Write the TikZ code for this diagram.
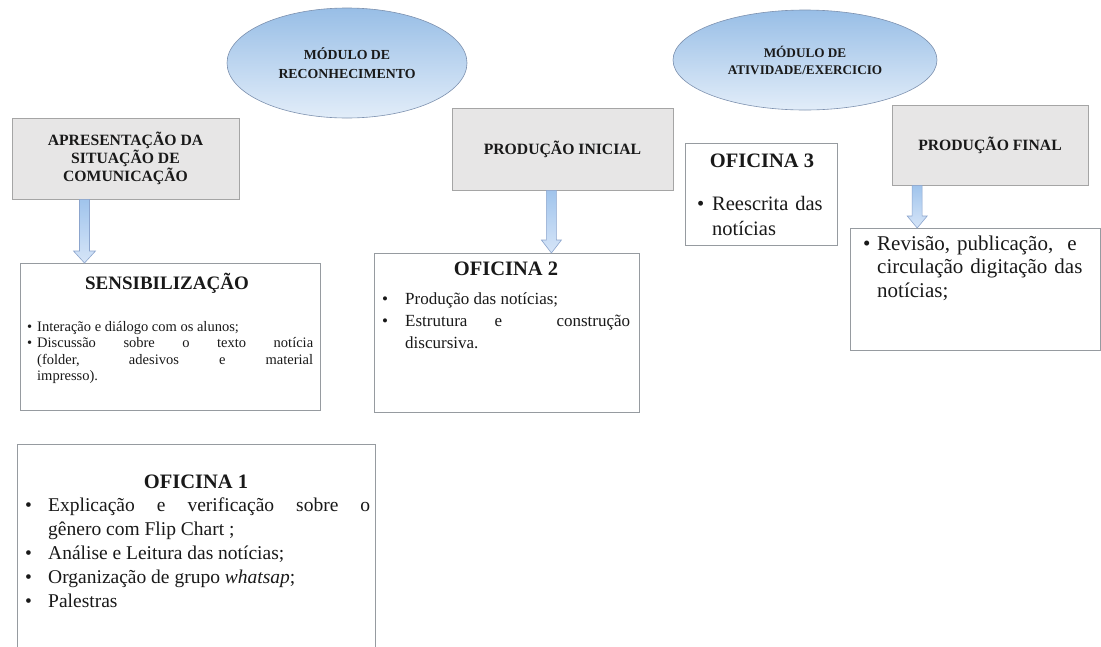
\documentclass[tikz,border=0pt]{standalone}
\usepackage{fontspec}
\setmainfont{Liberation Serif}
\usetikzlibrary{shapes.geometric,calc}
\definecolor{ellTop}{RGB}{152,190,230}
\definecolor{ellBot}{RGB}{226,237,249}
\definecolor{ellEdge}{RGB}{125,145,175}
\definecolor{grayFill}{RGB}{231,230,230}
\definecolor{grayEdge}{RGB}{165,165,165}
\definecolor{boxEdge}{RGB}{150,155,160}
\definecolor{arrTop}{RGB}{160,196,236}
\definecolor{arrBot}{RGB}{214,229,248}
\definecolor{arrEdge}{RGB}{140,165,205}
\definecolor{txt}{RGB}{25,25,25}
\pgfdeclarelayer{bg}\pgfsetlayers{bg,main}
\tolerance=9999
\hyphenpenalty=10000
\newcommand\bitem[2]{\noindent\hangindent=#1\hangafter=1\makebox[#1][l]{\textbullet}\ignorespaces#2\par}
\newcommand\blockarrow[5]{%
  \path[blockarr] ($(#1)+(-#3,0)$) -- ($(#1)+(#3,0)$) -- ($(#1 |- #2)+(#3,-#5)$) -- ($(#1 |- #2)+(#4,-#5)$) -- (#1 |- #2) -- ($(#1 |- #2)+(-#4,-#5)$) -- ($(#1 |- #2)+(-#3,-#5)$) -- cycle;}
\begin{document}
\begin{tikzpicture}[x=1pt,y=-1pt,
  ellip/.style={ellipse, draw=ellEdge, line width=0.6pt, top color=ellTop, bottom color=ellBot, inner sep=0pt, align=center, text=txt},
  graybox/.style={rectangle, draw=grayEdge, fill=grayFill, line width=0.8pt, align=center, inner sep=0pt, text=txt, font=\fontsize{15.7}{18}\bfseries},
  whitebox/.style={rectangle, draw=boxEdge, fill=white, line width=0.7pt, anchor=north west, inner sep=0pt},
  boxtitle/.style={anchor=base, inner sep=0pt, text=txt, font=\fontsize{20.5}{24}\bfseries},
  boxbody/.style={anchor=base west, inner sep=0pt, text=txt},
  blockarr/.style={draw=arrEdge, line width=0.6pt, top color=arrTop, bottom color=arrBot}]
\useasboundingbox (0,0) rectangle (1101,646);
\clip (0,0) rectangle (1101,646);
\fill[white] (0,0) rectangle (1101,646);

% ellipses
\node[ellip, minimum width=240pt, minimum height=110pt, font=\fontsize{13.8}{19}\bfseries] (ell1) at (347,63) {MÓDULO DE\\RECONHECIMENTO};
\node[ellip, minimum width=264pt, minimum height=100pt, font=\fontsize{13.2}{17}\bfseries] (ell2) at (805,60) {MÓDULO DE\\ATIVIDADE/EXERCICIO};

% gray boxes
\node[graybox, minimum width=227pt, minimum height=81pt] (apr) at (125.5,158.5) {APRESENTAÇÃO DA\\SITUAÇÃO DE\\COMUNICAÇÃO};
\node[graybox, minimum width=221pt, minimum height=82pt] (pi) at (562.5,149) {PRODUÇÃO INICIAL};
\node[graybox, minimum width=196pt, minimum height=80pt] (pf) at (990,145) {PRODUÇÃO FINAL};

% white boxes
\node[whitebox, minimum width=300pt, minimum height=147pt] (sens) at (20,263) {};
\node[whitebox, minimum width=358pt, minimum height=215pt] (of1) at (17,444) {};
\node[whitebox, minimum width=265pt, minimum height=159pt] (of2) at (374,253) {};
\node[whitebox, minimum width=152pt, minimum height=102pt] (of3) at (685,143) {};
\node[whitebox, minimum width=250pt, minimum height=122pt] (rev) at (850,228) {};

% texts of white boxes
\node[boxtitle, font=\fontsize{19}{22}\bfseries] (senst) at (167,289) {SENSIBILIZAÇÃO};
\node[boxbody, text width=286pt, align=justify, font=\fontsize{14.5}{16.6}\selectfont] (sensb) at (27,331)
  {\bitem{10pt}{Interação e diálogo com os alunos;}\bitem{10pt}{Discussão sobre o texto notícia\linebreak (folder, adesivos e material\linebreak impresso).}};

\node[boxtitle] (of1t) at (196,488) {OFICINA 1};
\node[boxbody, text width=345pt, align=justify, font=\fontsize{19.5}{24}\selectfont] (of1b) at (25,511)
  {\bitem{23pt}{Explicação e verificação sobre o\linebreak gênero com Flip Chart ;}\bitem{23pt}{Análise e Leitura das notícias;}\bitem{23pt}{Organização de grupo \textit{whatsap};}\bitem{23pt}{Palestras}};

\node[boxtitle] (of2t) at (506,275) {OFICINA 2};
\node[boxbody, text width=248pt, align=justify, font=\fontsize{17}{22}\selectfont] (of2b) at (382,304)
  {\bitem{23pt}{Produção das notícias;}\bitem{23pt}{Estrutura e~ construção\linebreak discursiva.}};

\node[boxtitle] (of3t) at (762,167) {OFICINA 3};
\node[boxbody, text width=135pt, align=left, font=\fontsize{20.5}{25}\selectfont] (of3b) at (697,210)
  {\bitem{15pt}{Reescrita das\linebreak notícias}};

\node[boxbody, text width=240pt, align=left, font=\fontsize{21}{23.5}\selectfont] (revb) at (863,250)
  {\bitem{14pt}{Revisão, publicação,~ e\linebreak circulação digitação das\linebreak notícias;}};

% arrows
\begin{pgfonlayer}{bg}
\coordinate (e1s) at ($(ell1.center)+(-2,0)$);
\blockarrow{e1s}{of1.north}{5}{12}{12}
\coordinate (e2s) at ($(ell2.center)+(-70,0)$);
\blockarrow{e2s}{of3.north}{4}{10}{11}
\end{pgfonlayer}
\coordinate (aprs) at ($(apr.south west)!0.32!(apr.south east)$);
\blockarrow{aprs}{sens.north}{5}{11}{12}
\coordinate (pis) at ($(pi.south west)!0.45!(pi.south east)$);
\blockarrow{pis}{of2.north}{5}{10}{13}
\coordinate (pfs) at ($(pf.south west)!0.13!(pf.south east)$);
\blockarrow{pfs}{rev.north}{5}{10}{12}
\end{tikzpicture}
\end{document}
